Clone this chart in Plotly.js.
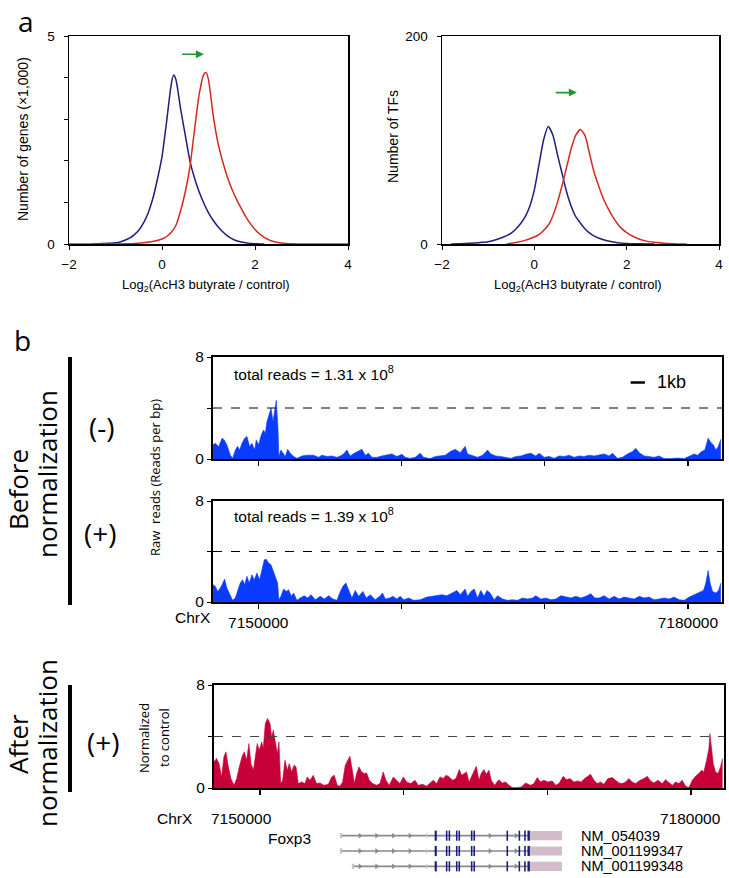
<!DOCTYPE html>
<html>
<head>
<meta charset="utf-8">
<script src="https://cdn.plot.ly/plotly-3.0.1.min.js"></script>
<style>html,body{margin:0;padding:0;background:#fff;}#chart{width:729px;height:878px;}</style>
</head>
<body>
<div id="chart"></div>
<script>
// ---------- Panel a data ----------
const genesBlueX = [-1.5,-1.4,-1.3,-1.2,-1.1,-1.0,-0.9,-0.8,-0.7,-0.6,-0.5,-0.4,-0.3,-0.2,-0.1,0.0,0.1,0.2,0.25,0.3,0.4,0.5,0.6,0.7,0.8,0.9,1.0,1.1,1.2,1.3,1.4,1.5,1.6,1.7,1.8,1.9,2.0,2.1,2.2];
const genesBlueY = [0,0.005,0.01,0.015,0.02,0.03,0.05,0.09,0.14,0.22,0.33,0.5,0.74,1.08,1.55,2.1,2.95,3.85,4.06,3.95,3.25,2.62,2.0,1.58,1.25,0.98,0.75,0.57,0.42,0.3,0.2,0.13,0.08,0.05,0.03,0.015,0.008,0.003,0];
const genesRedX = [-2,-1.0,-0.6,-0.4,-0.2,0.0,0.1,0.2,0.3,0.4,0.5,0.6,0.7,0.8,0.9,0.95,1.0,1.1,1.2,1.3,1.4,1.5,1.6,1.7,1.8,1.9,2.0,2.1,2.2,2.3,2.4,2.5,2.6,2.8,3.0,4.0];
const genesRedY = [0,0,0.01,0.03,0.06,0.12,0.18,0.28,0.45,0.8,1.25,1.85,2.75,3.6,4.08,4.12,3.95,3.1,2.45,2.0,1.63,1.33,1.08,0.86,0.66,0.49,0.35,0.24,0.16,0.1,0.06,0.035,0.018,0.005,0,0];

const tfsBlueX = [-1.8,-1.6,-1.4,-1.2,-1.0,-0.8,-0.6,-0.5,-0.4,-0.3,-0.2,-0.1,0.0,0.1,0.2,0.3,0.4,0.5,0.6,0.7,0.8,0.9,1.0,1.1,1.2,1.3,1.4,1.6,1.8,2.0,2.2,2.6];
const tfsBlueY = [0,0.3,0.7,1.3,2.2,4.5,8,10.5,14.5,19.5,26,36,52,76,100,113,105,86,68,50,36,26,20,14.5,10.5,7.5,5.5,2.8,1.3,0.5,0.2,0];
const tfsRedX = [-0.6,-0.4,-0.2,0.0,0.1,0.2,0.3,0.4,0.5,0.6,0.7,0.8,0.9,1.0,1.1,1.2,1.3,1.4,1.5,1.6,1.7,1.8,1.9,2.0,2.2,2.4,2.6,2.8,3.0,3.3];
const tfsRedY = [0,1.5,3.5,6.7,9,13,18,27,40,56,74,92,105,110,104,86,68,55,43,34,26,19.5,14.5,11,6,3,1.6,0.8,0.3,0];

const shiftGenes = {from:[0.4,4.56], to:[0.9,4.56]};
const shiftTFs = {from:[0.43,145.6], to:[0.92,145.6]};

// ---------- Panel b data ----------
const chrTicks = [7150000,7160000,7170000,7180000];
const chrTickText = ['7150000','','','7180000'];

const rawMinusPos = [7146840,7147000,7147230,7147470,7147630,7147810,7148050,7148210,7148400,7148560,7148700,7148860,7149050,7149210,7149400,7149560,7149750,7149860,7150020,7150210,7150370,7150490,7150610,7150770,7150890,7151030,7151120,7151260,7151370,7151440,7151580,7151720,7151890,7152050,7152240,7152470,7152700,7153050,7153400,7153860,7154210,7154450,7154800,7155140,7155490,7155730,7155960,7156190,7156420,7156700,7157010,7157240,7157470,7157700,7157940,7158290,7158630,7158980,7159330,7159680,7160030,7160260,7160610,7160960,7161310,7161540,7162010,7162360,7162710,7163060,7163410,7163750,7164100,7164450,7164610,7164960,7165310,7165660,7166010,7166240,7166590,7166940,7167290,7167640,7167990,7168340,7168680,7169030,7169380,7169620,7169960,7170310,7170660,7171010,7171360,7171710,7172060,7172410,7172760,7173110,7173450,7173800,7174150,7174500,7174730,7175080,7175430,7175780,7176130,7176360,7176600,7176950,7177290,7177640,7177990,7178340,7178810,7179270,7179740,7180090,7180440,7180670,7180950,7181180,7181410,7181600,7181790,7181950,7182110,7182300];
const rawMinusVal = [1.1,1.23,0.97,1.63,1.5,1.1,0.3,0.05,0.7,1.0,0.7,1.23,1.63,1.76,0.97,1.23,0.7,1.5,1.1,1.89,2.28,2.0,2.94,3.46,3.99,2.94,3.6,4.6,2.55,0.2,0.7,0.45,0.2,0.76,0.45,0.2,0.05,0.24,0.3,0.3,0.13,0.3,0.2,0.24,0.13,0.24,0.4,0.7,0.24,0.45,0.66,0.76,0.3,0.45,0.13,0.13,0.24,0.3,0.4,0.2,0.37,0.13,0.05,0.13,0.45,0.13,0.03,0.2,0.24,0.3,0.58,0.76,0.5,1.0,0.4,0.24,0.13,0.3,0.7,0.4,0.24,0.2,0.13,0.05,0.2,0.24,0.37,0.45,0.24,0.45,0.13,0.2,0.05,0.24,0.2,0.29,0.13,0.24,0.2,0.3,0.24,0.3,0.4,0.24,0.45,0.05,0.13,0.4,0.58,0.84,0.5,0.24,0.2,0.13,0.24,0.03,0.03,0.08,0.03,0.24,0.4,0.29,0.58,0.7,1.63,1.29,1.1,0.7,0.97,1.55];

const rawPlusPos = [7146840,7147000,7147160,7147350,7147530,7147650,7147810,7148000,7148210,7148400,7148580,7148740,7148910,7149050,7149210,7149370,7149560,7149720,7149910,7150090,7150260,7150420,7150560,7150720,7150890,7151030,7151190,7151350,7151440,7151580,7151770,7151960,7152120,7152310,7152470,7152700,7152930,7153210,7153450,7153680,7153980,7154330,7154610,7154910,7155210,7155490,7155730,7155910,7156120,7156310,7156540,7156770,7157010,7157310,7157540,7157820,7158170,7158520,7158680,7158870,7159170,7159400,7159680,7159910,7160150,7160500,7160850,7161310,7161780,7162130,7162470,7162820,7163170,7163520,7163870,7164100,7164450,7164610,7164850,7165080,7165310,7165540,7165780,7165960,7166190,7166470,7166710,7167060,7167400,7167750,7168100,7168450,7168800,7169150,7169380,7169730,7170080,7170430,7170780,7171130,7171480,7171830,7172170,7172520,7172870,7173220,7173500,7173800,7174150,7174500,7174850,7175200,7175550,7175900,7176250,7176600,7176940,7177290,7177640,7177990,7178340,7178690,7179040,7179390,7179740,7180090,7180440,7180780,7181090,7181250,7181410,7181550,7181720,7181950,7182140,7182300];
const rawPlusVal = [1.37,1.24,0.84,1.1,1.5,1.82,1.1,0.58,0.13,0.32,0.97,1.5,1.76,1.37,2.03,1.5,2.16,1.76,2.29,1.76,2.55,3.34,3.39,3.08,2.95,2.55,2.03,1.5,0.18,0.45,1.03,0.84,0.97,0.45,0.71,0.13,0.32,0.5,0.32,0.58,0.18,0.45,0.24,0.5,0.24,0.13,0.84,1.24,1.5,0.97,0.32,0.92,0.45,0.84,0.32,0.58,0.18,0.5,0.71,0.24,0.32,0.45,0.24,0.45,0.18,0.32,0.13,0.18,0.39,0.45,0.5,0.58,0.5,0.71,0.92,0.58,1.03,0.45,0.84,1.03,0.32,0.92,0.45,0.92,0.71,0.18,0.5,0.24,0.13,0.18,0.13,0.32,0.24,0.32,0.5,0.24,0.32,0.18,0.24,0.5,0.39,0.32,0.45,0.32,0.45,0.66,0.32,0.32,0.5,0.24,0.45,0.24,0.39,0.32,0.24,0.45,0.32,0.39,0.18,0.24,0.32,0.24,0.39,0.18,0.13,0.39,0.58,0.71,0.92,1.5,2.5,1.5,0.84,0.71,0.92,1.5];

const normPlusPos = [7146800,7146980,7147150,7147330,7147490,7147630,7147800,7147980,7148190,7148380,7148560,7148750,7148910,7149070,7149230,7149370,7149540,7149680,7149810,7149950,7150120,7150230,7150370,7150530,7150700,7150810,7150930,7151070,7151210,7151320,7151440,7151580,7151740,7151900,7152040,7152200,7152370,7152510,7152670,7152900,7153130,7153290,7153480,7153710,7153940,7154180,7154450,7154760,7154990,7155170,7155380,7155570,7155750,7155940,7156100,7156260,7156430,7156570,7156730,7156890,7157080,7157260,7157420,7157610,7157840,7158120,7158350,7158580,7158770,7159000,7159280,7159510,7159740,7159980,7160210,7160490,7160790,7161020,7161320,7161600,7161830,7162060,7162300,7162530,7162760,7162950,7163180,7163410,7163640,7163870,7164040,7164270,7164380,7164550,7164710,7164890,7165060,7165240,7165400,7165590,7165750,7165940,7166100,7166330,7166630,7166870,7167100,7167330,7167560,7167910,7168190,7168490,7168840,7169070,7169300,7169530,7169770,7170040,7170350,7170580,7170810,7171110,7171340,7171580,7171850,7172130,7172360,7172600,7172830,7173010,7173250,7173480,7173710,7173940,7174220,7174520,7174750,7174990,7175220,7175450,7175680,7175910,7176150,7176450,7176730,7176960,7177190,7177420,7177700,7178000,7178230,7178470,7178700,7178930,7179160,7179390,7179630,7179860,7180090,7180320,7180550,7180740,7180900,7181090,7181250,7181320,7181410,7181550,7181710,7181880,7182060,7182200];
const normPlusVal = [2.03,2.29,1.9,0.86,2.42,2.81,1.64,0.73,0.21,0.73,1.64,2.42,2.81,2.16,3.45,1.9,1.38,2.68,3.45,2.94,3.58,3.06,5.01,5.4,5.01,3.97,4.49,3.58,2.68,3.58,0.34,0.6,2.16,1.38,1.9,1.25,1.77,1.64,0.34,0.47,0.34,0.86,0.6,0.99,0.34,0.39,0.21,0.29,0.86,0.99,0.21,0.13,0.47,1.77,2.16,2.47,1.38,0.34,1.12,1.64,1.25,1.12,1.17,0.6,0.34,0.21,0.34,1.25,0.6,0.21,0.86,0.6,0.34,0.86,0.47,0.34,0.6,0.21,0.29,0.13,0.39,0.6,0.34,0.86,0.73,0.99,0.86,0.6,0.73,1.43,0.99,1.17,1.25,0.47,0.86,1.25,1.69,0.6,1.12,1.43,1.06,1.38,0.6,0.21,0.65,0.39,0.47,0.21,0.03,0.03,0.08,0.39,0.21,0.34,0.81,0.47,0.6,0.47,0.55,0.21,0.34,0.91,0.65,0.73,0.47,0.55,0.47,0.73,0.91,1.06,0.6,0.34,0.47,0.29,0.73,0.81,0.6,0.39,0.34,0.47,0.73,0.47,0.34,0.6,0.73,0.91,0.55,0.39,0.6,0.34,0.65,0.39,0.21,0.47,0.34,0.6,0.13,0.03,0.6,0.91,1.12,1.38,1.25,2.16,3.06,4.23,3.19,1.9,1.25,1.12,1.64,2.29];

const threshold = 4;
const scaleBar = [7176000, 7177000];

// Foxp3 gene models
const transcripts = ['NM_054039','NM_001199347','NM_001199348'];
const txStart = [7155570, 7155570, 7156400];
const exonStarts = [7162160,7162940,7163130,7163640,7163820,7164680,7164860,7167160,7168000,7168390,7168620];
const exonEnds   = [7162310,7163050,7163240,7163750,7163930,7164790,7164970,7167270,7168110,7168500,7168790];
const utrStart = 7168790, utrEnd = 7171020;
const smallUtr = [7161560, 7161640];
const chevronPos = [7156960,7158120,7159280,7160440,7166010,7167820];

// ---------- helpers ----------
const W = 729, H = 878;
const px = v => v / W;
const py = v => 1 - v / H;

const NAVY = '#1e1e7e', RED = '#d42a1e', GREEN = '#1c9a2c';
const BLUEFILL = '#0a3cff', REDFILL = '#c8003a';
const SANS = 'Liberation Sans, Arial, sans-serif';
const OPEN = 'Open Sans, Noto Sans, sans-serif';

const traces = [
  {x: genesBlueX, y: genesBlueY, xaxis:'x', yaxis:'y', mode:'lines', line:{color:NAVY, width:1.5, shape:'spline', smoothing:0.6}},
  {x: genesRedX, y: genesRedY, xaxis:'x', yaxis:'y', mode:'lines', line:{color:RED, width:1.5, shape:'spline', smoothing:0.6}},
  {x: tfsBlueX, y: tfsBlueY, xaxis:'x2', yaxis:'y2', mode:'lines', line:{color:NAVY, width:1.5, shape:'spline', smoothing:0.6}},
  {x: tfsRedX, y: tfsRedY, xaxis:'x2', yaxis:'y2', mode:'lines', line:{color:RED, width:1.5, shape:'spline', smoothing:0.6}},
  {x: rawMinusPos, y: rawMinusVal, xaxis:'x3', yaxis:'y3', mode:'lines', fill:'tozeroy', fillcolor:BLUEFILL, line:{color:BLUEFILL, width:0.6}},
  {x: rawPlusPos, y: rawPlusVal, xaxis:'x4', yaxis:'y4', mode:'lines', fill:'tozeroy', fillcolor:BLUEFILL, line:{color:BLUEFILL, width:0.6}},
  {x: normPlusPos, y: normPlusVal, xaxis:'x5', yaxis:'y5', mode:'lines', fill:'tozeroy', fillcolor:REDFILL, line:{color:REDFILL, width:0.6}}
];

// chevrons on gene models
const chevX = [], chevY = [];
transcripts.forEach((t, i) => {
  chevronPos.forEach(p => { if (p > txStart[i] + 300) { chevX.push(p); chevY.push(i + 1); } });
});
traces.push({x: chevX, y: chevY, xaxis:'x6', yaxis:'y6', mode:'markers',
  marker:{symbol:'triangle-right', size:5, color:'#8a8a8a'}});

const aDom = [py(244), py(36)];
const tickFontA = {family:SANS, size:13.5, color:'#000'};
const tickFontB = {family:SANS, size:15.5, color:'#000'};

function xa(domain, range, extra) {
  return Object.assign({domain, range, showline:true, linecolor:'#000', linewidth:1.5, mirror:true,
    ticks:'outside', ticklen:4, tickcolor:'#000', showgrid:false, zeroline:false, fixedrange:true}, extra);
}

const trackX = (domain, range, showLabels) => xa(domain, range, {
  tickvals: chrTicks, ticktext: chrTickText, showticklabels: showLabels, tickfont: tickFontB,
  linewidth: 2, ticklen: 5, tickwidth: 1.5});
const trackY = (domain, anchor) => xa(domain, [0, 8], {
  tickvals:[0,4,8], ticktext:['0','','8'], tickfont: tickFontB, linewidth: 2, ticklen: 4, anchor});

const layout = {
  width: W, height: H, margin:{l:0, r:0, t:0, b:0}, paper_bgcolor:'#fff', plot_bgcolor:'rgba(0,0,0,0)',
  showlegend:false, font:{family:SANS, color:'#000'},
  xaxis: xa([px(69), px(348)], [-2, 4], {anchor:'y', tickvals:[-2,0,2,4], tickfont:tickFontA, ticklabelstandoff:3}),
  yaxis: xa(aDom, [0, 5], {anchor:'x', tickvals:[0,1,2,3,4,5], ticktext:['0','','','','','5'], tickfont:tickFontA, ticklabelstandoff:6}),
  xaxis2: xa([px(442), px(719)], [-2, 4], {anchor:'y2', tickvals:[-2,0,2,4], tickfont:tickFontA, ticklabelstandoff:3}),
  yaxis2: xa(aDom, [0, 200], {anchor:'x2', tickvals:[0,200], tickfont:tickFontA, ticklabelstandoff:6}),
  xaxis3: Object.assign(trackX([px(213), px(722)], [7146840, 7182380], false), {anchor:'y3'}),
  yaxis3: trackY([py(459), py(357)], 'x3'),
  xaxis4: Object.assign(trackX([px(213), px(722)], [7146840, 7182380], true), {anchor:'y4'}),
  yaxis4: trackY([py(602), py(501)], 'x4'),
  xaxis5: Object.assign(trackX([px(214), px(724)], [7146800, 7182300], false), {anchor:'y5'}),
  yaxis5: trackY([py(788), py(685)], 'x5'),
  xaxis6: {domain:[px(214), px(724)], range:[7146800, 7182300], visible:false, anchor:'y6', fixedrange:true},
  yaxis6: {domain:[py(874), py(828)], range:[3.5, 0.5], visible:false, anchor:'x6', fixedrange:true},
  shapes: [],
  annotations: []
};

const S = layout.shapes, A = layout.annotations;

// threshold lines
[['x3','y3','#000'],['x4','y4','#000'],['x5','y5','#444']].forEach(([xr, yr, c]) => {
  S.push({type:'line', xref: xr + ' domain', yref: yr, x0:0, x1:1, y0:threshold, y1:threshold,
    line:{color:c, width:1, dash:'dash'}});
});
// 1kb scale bar
S.push({type:'line', xref:'x3', yref:'y3', x0:scaleBar[0], x1:scaleBar[1], y0:6, y1:6, line:{color:'#000', width:2.5}});
// vertical group bars
S.push({type:'line', xref:'paper', yref:'paper', x0:px(70), x1:px(70), y0:py(605), y1:py(357), line:{color:'#000', width:4}});
S.push({type:'line', xref:'paper', yref:'paper', x0:px(70), x1:px(70), y0:py(792), y1:py(685), line:{color:'#000', width:4}});

// gene models
transcripts.forEach((t, i) => {
  const r = i + 1;
  S.push({type:'line', xref:'x6', yref:'y6', x0:txStart[i], x1:utrStart, y0:r, y1:r, line:{color:'#8a8a8a', width:1.6}});
  S.push({type:'rect', xref:'x6', yref:'y6', x0:txStart[i], x1:txStart[i]+160, y0:r-0.17, y1:r+0.17, fillcolor:'#d3bcc9', line:{width:0}});
  S.push({type:'rect', xref:'x6', yref:'y6', x0:smallUtr[0], x1:smallUtr[1], y0:r-0.17, y1:r+0.17, fillcolor:'#d9c6d1', line:{width:0}});
  S.push({type:'rect', xref:'x6', yref:'y6', x0:utrStart, x1:utrEnd, y0:r-0.3, y1:r+0.3, fillcolor:'#d3bcc9', line:{width:0}});
  exonStarts.forEach((s, k) => {
    S.push({type:'rect', xref:'x6', yref:'y6', x0:s, x1:exonEnds[k], y0:r-0.33, y1:r+0.33, fillcolor:'#1c1c84', line:{width:0}});
  });
  A.push({text:t, xref:'paper', yref:'y6', x:px(579), y:r, xanchor:'left', yanchor:'middle', showarrow:false,
    font:{family:SANS, size:14.5, color:'#000'}});
});

function txt(text, x, y, size, family, extra) {
  A.push(Object.assign({text, xref:'paper', yref:'paper', x:px(x), y:py(y), xanchor:'center', yanchor:'middle',
    showarrow:false, font:{family, size, color:'#000'}}, extra || {}));
}

// panel a texts
txt('a', 26, 21, 28, OPEN);
txt('Number of genes (×1,000)', 23, 139, 14, SANS, {textangle:-90});
txt('Log<sub>2</sub>(AcH3 butyrate / control)', 206, 285, 13, SANS);
txt('Number of TFs', 393, 137, 14, SANS, {textangle:-90});
txt('Log<sub>2</sub>(AcH3 butyrate / control)', 578, 285, 13, SANS);

// shift arrows
[[shiftGenes,'x','y'],[shiftTFs,'x2','y2']].forEach(([s, xr, yr]) => {
  A.push({text:'', x:s.to[0], y:s.to[1], ax:s.from[0], ay:s.from[1], xref:xr, yref:yr, axref:xr, ayref:yr,
    showarrow:true, arrowhead:2, arrowsize:1, arrowwidth:1.6, arrowcolor:GREEN, standoff:0, startstandoff:0});
});

// panel b texts
txt('b', 23, 340, 28, OPEN);
txt('Before', 18, 490, 26, OPEN, {textangle:-90});
txt('normalization', 47, 474, 26, OPEN, {textangle:-90});
txt('(-)', 102, 427, 28, OPEN);
txt('(+)', 100, 533, 28, OPEN);
txt('Raw  reads (Reads per bp)', 155, 478, 13, OPEN, {textangle:-90});
txt('After', 18, 744, 26, OPEN, {textangle:-90});
txt('normalization', 47, 743, 26, OPEN, {textangle:-90});
txt('(+)', 103, 742, 28, OPEN);
txt('Normalized', 144, 738, 13, OPEN, {textangle:-90});
txt('to control', 164, 738, 13, OPEN, {textangle:-90});

txt('total reads = 1.31 x 10<sup>8</sup>', 232, 373, 15.5, SANS, {xanchor:'left'});
txt('total reads = 1.39 x 10<sup>8</sup>', 232, 515, 15.5, SANS, {xanchor:'left'});
txt('1kb', 655, 382, 18, SANS, {xanchor:'left'});
txt('ChrX', 193, 617, 15.5, SANS);
txt('ChrX', 175, 818, 15.5, SANS);
txt('7150000', 241, 818, 15.5, SANS);
txt('7180000', 690, 818, 15.5, SANS);
txt('Foxp3', 313, 838, 15.5, SANS, {xanchor:'right'});

Plotly.newPlot('chart', traces, layout, {displayModeBar:false, staticPlot:true});
</script>
</body>
</html>
